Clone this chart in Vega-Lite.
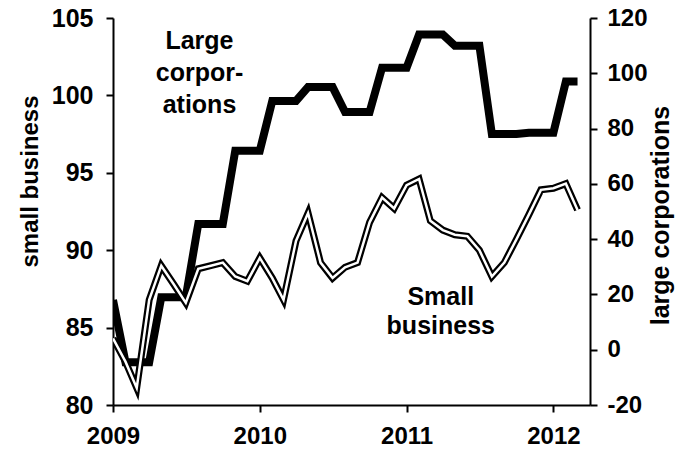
{
  "$schema": "https://vega.github.io/schema/vega-lite/v6.json",
  "width": 477,
  "height": 387,
  "autosize": {"type": "none"},
  "padding": {"left": 113, "top": 18, "right": 99, "bottom": 47},
  "background": "white",
  "config": {
    "view": {"stroke": null},
    "axis": {
      "grid": false,
      "domainColor": "black",
      "domainWidth": 2,
      "tickColor": "black",
      "tickWidth": 2,
      "tickSize": 7,
      "labelFont": "Liberation Sans",
      "labelFontWeight": "bold",
      "labelFontSize": 24,
      "labelColor": "black",
      "labelFlush": false,
      "labelOverlap": false,
      "titleFont": "Liberation Sans",
      "titleFontWeight": "bold",
      "titleColor": "black"
    }
  },
  "datasets": {
    "series": [
      {"date": "2009-01-01", "sb": 84.3, "lc": 18},
      {"date": "2009-02-01", "sb": 82.8, "lc": -4.5},
      {"date": "2009-03-01", "sb": 81.1, "lc": -4.5},
      {"date": "2009-04-01", "sb": 86.8, "lc": -4.5},
      {"date": "2009-05-01", "sb": 89.0, "lc": 19},
      {"date": "2009-06-01", "sb": 87.8, "lc": 19},
      {"date": "2009-07-01", "sb": 86.6, "lc": 19},
      {"date": "2009-08-01", "sb": 88.8, "lc": 45.5},
      {"date": "2009-09-01", "sb": 89.0, "lc": 45.5},
      {"date": "2009-10-01", "sb": 89.2, "lc": 45.5},
      {"date": "2009-11-01", "sb": 88.3, "lc": 72},
      {"date": "2009-12-01", "sb": 88.0, "lc": 72},
      {"date": "2010-01-01", "sb": 89.5, "lc": 72},
      {"date": "2010-02-01", "sb": 88.2, "lc": 90},
      {"date": "2010-03-01", "sb": 86.8, "lc": 90},
      {"date": "2010-04-01", "sb": 90.6, "lc": 90},
      {"date": "2010-05-01", "sb": 92.4, "lc": 95},
      {"date": "2010-06-01", "sb": 89.2, "lc": 95},
      {"date": "2010-07-01", "sb": 88.2, "lc": 95},
      {"date": "2010-08-01", "sb": 88.9, "lc": 86},
      {"date": "2010-09-01", "sb": 89.2, "lc": 86},
      {"date": "2010-10-01", "sb": 91.8, "lc": 86},
      {"date": "2010-11-01", "sb": 93.4, "lc": 102},
      {"date": "2010-12-01", "sb": 92.7, "lc": 102},
      {"date": "2011-01-01", "sb": 94.2, "lc": 102},
      {"date": "2011-02-01", "sb": 94.6, "lc": 114},
      {"date": "2011-03-01", "sb": 91.9, "lc": 114},
      {"date": "2011-04-01", "sb": 91.3, "lc": 114},
      {"date": "2011-05-01", "sb": 91.0, "lc": 110},
      {"date": "2011-06-01", "sb": 90.9, "lc": 110},
      {"date": "2011-07-01", "sb": 90.0, "lc": 110},
      {"date": "2011-08-01", "sb": 88.3, "lc": 78},
      {"date": "2011-09-01", "sb": 89.2, "lc": 78},
      {"date": "2011-10-01", "sb": 90.7, "lc": 78},
      {"date": "2011-11-01", "sb": 92.3, "lc": 78.5},
      {"date": "2011-12-01", "sb": 93.9, "lc": 78.5},
      {"date": "2012-01-01", "sb": 94.0, "lc": 78.5},
      {"date": "2012-02-01", "sb": 94.3, "lc": 97},
      {"date": "2012-03-01", "sb": 92.6, "lc": 97}
    ],
    "labelLarge": [
      {"date": "2009-08-04", "sb": 103.5, "label": ["Large", "corpor-", "ations"]}
    ],
    "labelSmall": [
      {"date": "2011-03-27", "sb": 87.0, "label": ["Small", "business"]}
    ]
  },
  "encoding": {
    "x": {
      "field": "date",
      "type": "temporal",
      "scale": {"type": "utc", "domain": ["2009-01-01", "2012-04-01"]},
      "axis": {
        "title": null,
        "format": "%Y",
        "formatType": "utc",
        "values": [
          {"year": 2009, "month": 1, "date": 1, "utc": true},
          {"year": 2010, "month": 1, "date": 1, "utc": true},
          {"year": 2011, "month": 1, "date": 1, "utc": true},
          {"year": 2012, "month": 1, "date": 1, "utc": true}
        ],
        "labelPadding": 12
      }
    }
  },
  "layer": [
    {
      "data": {"name": "series"},
      "mark": {"type": "line", "color": "black", "strokeWidth": 8, "clip": true},
      "encoding": {
        "y": {
          "field": "lc",
          "type": "quantitative",
          "scale": {"domain": [-20, 120], "nice": false, "zero": false},
          "axis": {
            "orient": "right",
            "title": "large corporations",
            "titleFontSize": 25,
            "titleAngle": -90,
            "titleBaseline": "middle",
            "titleAlign": "center",
            "titleX": 70,
            "titleY": 197,
            "values": [-20, 0, 20, 40, 60, 80, 100, 120],
            "labelExpr": "'' + datum.value",
            "labelPadding": 10
          }
        }
      }
    },
    {
      "encoding": {
        "y": {
          "field": "sb",
          "type": "quantitative",
          "scale": {"domain": [80, 105], "nice": false, "zero": false},
          "axis": {
            "orient": "left",
            "title": "small business",
            "titleFontSize": 24,
            "titleAngle": -90,
            "titleBaseline": "middle",
            "titleAlign": "center",
            "titleX": -83,
            "titleY": 163,
            "values": [80, 85, 90, 95, 100, 105],
            "labelFontSize": 25,
            "labelPadding": 13
          }
        }
      },
      "layer": [
        {
          "data": {"name": "series"},
          "mark": {"type": "line", "color": "black", "strokeWidth": 7, "clip": true}
        },
        {
          "data": {"name": "series"},
          "mark": {"type": "line", "color": "white", "strokeWidth": 2.5, "clip": true}
        },
        {
          "data": {"name": "labelLarge"},
          "mark": {
            "type": "text",
            "font": "Liberation Sans",
            "fontWeight": "bold",
            "fontSize": 25,
            "lineHeight": 32,
            "align": "center",
            "baseline": "middle",
            "color": "black"
          },
          "encoding": {"text": {"field": "label"}}
        },
        {
          "data": {"name": "labelSmall"},
          "mark": {
            "type": "text",
            "font": "Liberation Sans",
            "fontWeight": "bold",
            "fontSize": 25,
            "lineHeight": 29,
            "align": "center",
            "baseline": "middle",
            "color": "black"
          },
          "encoding": {"text": {"field": "label"}}
        }
      ]
    }
  ],
  "resolve": {"scale": {"y": "independent"}}
}
